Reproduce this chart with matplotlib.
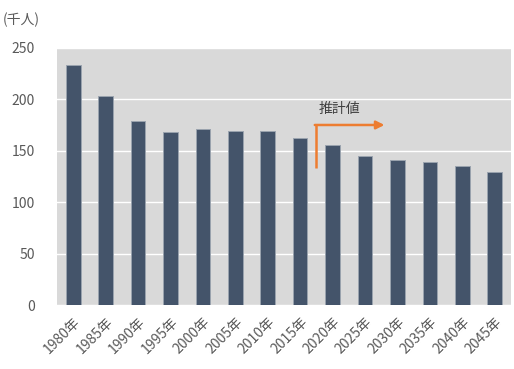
import numpy as np
import matplotlib
matplotlib.use("Agg")
import matplotlib.pyplot as plt

plt.rcParams['font.family'] = ['Noto Sans CJK JP', 'DejaVu Sans']

years = ["1980年", "1985年", "1990年", "1995年", "2000年", "2005年", "2010年",
         "2015年", "2020年", "2025年", "2030年", "2035年", "2040年", "2045年"]
values = [233, 203, 179, 168, 171, 169.6, 169.6, 162, 155.6, 144.6, 141, 138.8, 135, 129.4]
yticks = [0, 50, 100, 150, 200, 250]

bar_color = '#44546A'
text_color = '#595959'
arrow_color = '#ED7D31'

fig = plt.figure(figsize=(5.14, 3.69), dpi=100)
ax = fig.add_axes([0.111, 0.1734, 0.883, 0.697])
ax.set_facecolor('#D9D9D9')

x = np.arange(len(years))
ax.bar(x, values, width=0.45, color=bar_color, edgecolor='#9aa3ae', linewidth=0.7, zorder=3)

ax.set_xlim(-0.5, len(years) - 0.5)
ax.set_ylim(0, 250)
ax.set_yticks(yticks)
ax.set_yticklabels([str(v) for v in yticks], fontsize=10, color=text_color)
ax.yaxis.grid(True, color='white', linewidth=1.0, zorder=0)
ax.set_axisbelow(True)
ax.set_xticks(x)
ax.set_xticklabels(years, rotation=45, ha='right', rotation_mode='anchor',
                   fontsize=10, color=text_color)
ax.tick_params(axis='both', length=0)
ax.tick_params(axis='y', pad=16)
ax.tick_params(axis='x', pad=7)
for s in ax.spines.values():
    s.set_visible(False)

# 推計値 arrow
ax.plot([7.5, 7.5], [133, 175.5], color=arrow_color, linewidth=1.8, zorder=4,
        solid_capstyle='butt')
ax.annotate('', xy=(9.6, 175), xytext=(7.45, 175),
            arrowprops=dict(arrowstyle='-|>', color=arrow_color, lw=1.8,
                            mutation_scale=12, shrinkA=0, shrinkB=0), zorder=4)
ax.text(8.22, 190.5, '推計値', ha='center', va='center', fontsize=10, color='#404040', zorder=5)

fig.text(0.006, 0.946, '(千人)', ha='left', va='center', fontsize=10, color=text_color)

fig.savefig('out.png', dpi=100)
